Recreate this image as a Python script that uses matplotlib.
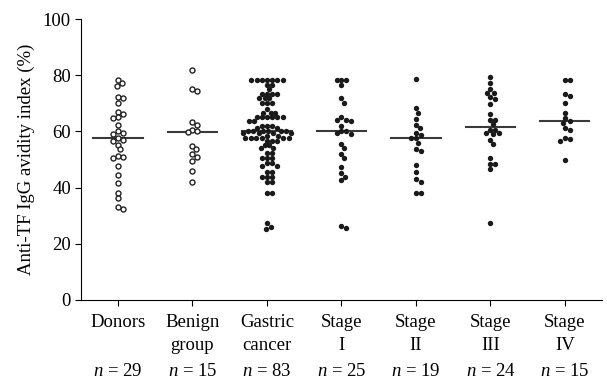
import numpy as np
import matplotlib
matplotlib.use("Agg")
import matplotlib.pyplot as plt

# group names and n labels
groups = ["Donors", "Benign\ngroup", "Gastric\ncancer", "Stage\nI", "Stage\nII", "Stage\nIII", "Stage\nIV"]
n_labels = [29, 15, 83, 25, 19, 24, 15]

# avidity index values
donors = [78.3, 77.1, 76.3, 72.1, 71.8, 70.0, 67.0, 66.1, 65.0, 64.7, 62.3, 60.1, 59.6, 59.0,
          57.5, 56.9, 56.4, 55.2, 53.6, 51.2, 50.8, 50.6, 47.7, 44.5, 41.5, 38.2, 36.2, 33.2, 32.3]
benign = [81.9, 75.0, 74.4, 63.2, 62.3, 60.5, 60.1, 59.9, 54.8, 53.6, 52.0, 51.0, 49.6, 45.9, 42.1]
gastric = ([78.3] * 7 + [76.5] * 2 + [75.0] + [73.3] * 4 + [71.8] * 3 + [70.0] * 3 + [67.9]
           + [66.7] * 3 + [65.0] * 6 + [63.6] * 2 + [62.0] * 3 + [61.2] * 2 + [60.3] * 6
           + [59.3] * 4 + [58.5] * 2 + [57.8] * 6 + [56.7] * 3 + [55.2] * 2 + [54.0] * 2
           + [52.2] * 2 + [50.4] * 3 + [48.6] * 2 + [47.5] * 2 + [45.7] * 2 + [43.9] * 3
           + [42.1] * 2 + [38.0] * 2 + [27.5, 26.1, 25.2])
stage1 = [78.3, 78.3, 78.3, 76.5, 71.8, 70.2, 65.2, 64.1, 64.1, 63.7, 61.9, 60.1, 60.1, 59.3,
          59.0, 55.5, 54.0, 52.0, 50.4, 47.4, 45.1, 43.9, 42.7, 26.3, 25.5]
stage2 = [78.5, 68.2, 66.7, 64.4, 62.3, 61.1, 59.6, 58.7, 57.5, 57.5, 56.0, 53.7, 53.0, 48.0,
          45.7, 43.1, 42.1, 38.2, 38.0]
stage3 = [79.2, 77.3, 75.0, 73.6, 73.6, 72.4, 71.4, 69.6, 66.1, 64.1, 64.1, 62.5, 60.5, 60.5,
          59.6, 59.3, 59.0, 56.9, 55.4, 50.4, 48.4, 48.4, 46.6, 27.3]
stage4 = [78.3, 78.3, 73.2, 72.6, 70.0, 66.7, 64.7, 63.8, 63.1, 61.1, 60.5, 57.8, 57.2, 56.7, 49.8]

data = [donors, benign, gastric, stage1, stage2, stage3, stage4]
hollow = [True, True, False, False, False, False, False]

plt.rcParams['font.family'] = ['Liberation Serif', 'DejaVu Serif']
plt.rcParams['mathtext.fontset'] = 'custom'
plt.rcParams['mathtext.it'] = 'Liberation Serif:italic'
plt.rcParams['mathtext.rm'] = 'Liberation Serif'

fs = 13.5

fig = plt.figure(figsize=(6.07, 3.88), dpi=100)
ax = fig.add_axes([0.133, 0.227, 0.859, 0.724])
ax.set_xlim(-0.5, 6.5)
ax.set_ylim(0, 100)

# pixel scale, for the swarm layout
px_x = 0.859 * 607 / 7.0
px_y = 0.724 * 388 / 100.0


def swarm(vals, d=4.8):
    # simple beeswarm: place each point at the nearest free offset
    placed = []
    out = []
    step = d / 4
    for v in vals:
        y = v * px_y
        k = 0
        while True:
            cands = [0.0] if k == 0 else [k * step, -k * step]
            ok = None
            for c in cands:
                if all((c - px) ** 2 + (y - py) ** 2 >= d * d for px, py in placed):
                    ok = c
                    break
            if ok is not None:
                placed.append((ok, y))
                out.append(ok / px_x)
                break
            k += 1
    return np.array(out)


for i, vals in enumerate(data):
    vals = np.sort(np.array(vals))[::-1]
    xs = i + swarm(vals)
    if hollow[i]:
        ax.scatter(xs, vals, s=13, facecolor='white', edgecolor='#222222', linewidth=1.0, zorder=3)
    else:
        ax.scatter(xs, vals, s=15, color='#1a1a1a', linewidth=0, zorder=3)
    med = np.median(vals)
    ax.plot([i - 0.33, i + 0.33], [med, med], color='#3a3a3a', lw=1.5, zorder=2)

ax.spines['top'].set_visible(False)
ax.spines['right'].set_visible(False)
ax.spines['left'].set_linewidth(0.8)
ax.spines['bottom'].set_linewidth(0.8)
ax.set_yticks([0, 20, 40, 60, 80, 100])
ax.set_xticks(range(7))
ax.set_xticklabels(groups, fontsize=fs, linespacing=1.5, va='top')
ax.tick_params(axis='both', direction='out', length=4, width=0.8, labelsize=fs)
ax.tick_params(axis='x', pad=6)
ax.tick_params(axis='y', pad=3)
ax.set_ylabel("Anti-TF IgG avidity index (%)", fontsize=fs, labelpad=6)

for i, n in enumerate(n_labels):
    ax.text(i, -0.255, "$n$ = %d" % n, transform=ax.get_xaxis_transform(),
            ha='center', va='center', fontsize=fs)

fig.savefig("out.png", dpi=100)
